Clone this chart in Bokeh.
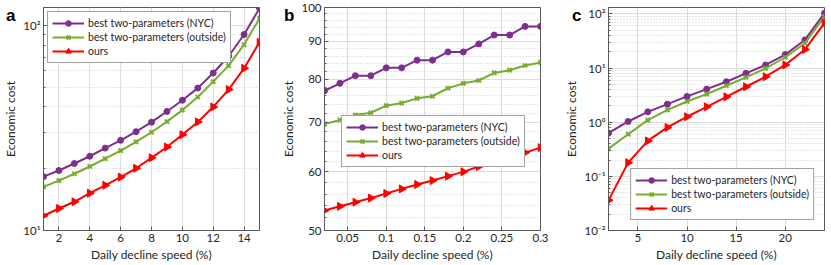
import math
from bokeh.plotting import figure
from bokeh.layouts import row
from bokeh.models import (Range1d, FixedTicker, Legend, LegendItem, Div,
                          CustomJSTickFormatter, NumeralTickFormatter)
from bokeh.embed import file_html
from bokeh.resources import INLINE

# ---------------- data ----------------
x_a = [1, 2, 3, 4, 5, 6, 7, 8, 9, 10, 11, 12, 13, 14, 15]
nyc_a = [18.3, 19.6, 21.2, 23.0, 25.2, 27.5, 30.3, 33.7, 38.0, 43.1, 49.4, 58.5, 70.6, 90.1, 121]
out_a = [16.3, 17.5, 18.9, 20.5, 22.4, 24.5, 27.0, 30.1, 33.9, 38.6, 44.7, 53.1, 63.6, 80.5, 107.9]
ours_a = [11.8, 12.8, 13.8, 15.2, 16.6, 18.2, 20.1, 22.6, 25.5, 29.3, 33.8, 40.0, 48.6, 61.7, 82.6]

x_b = [0.02, 0.04, 0.06, 0.08, 0.10, 0.12, 0.14, 0.16, 0.18, 0.20, 0.22, 0.24, 0.26, 0.28, 0.30]
nyc_b = [77.2, 79.0, 80.9, 80.9, 82.9, 82.9, 84.9, 84.9, 87.1, 87.1, 89.3, 91.8, 91.8, 94.3, 94.3]
out_b = [69.6, 70.5, 71.6, 72.1, 73.7, 74.3, 75.4, 75.9, 77.8, 79.0, 79.7, 81.6, 82.3, 83.5, 84.3]
ours_b = [53.2, 53.9, 54.6, 55.3, 56.1, 56.9, 57.7, 58.4, 59.2, 60.0, 61.0, 61.9, 62.8, 63.7, 64.7]

x_c = [2, 4, 6, 8, 10, 12, 14, 16, 18, 20, 22, 24]
nyc_c = [0.625, 1.03, 1.55, 2.15, 2.99, 4.08, 5.58, 7.97, 11.4, 17.7, 33.0, 103]
out_c = [0.325, 0.60, 1.09, 1.69, 2.41, 3.30, 4.71, 6.71, 9.86, 15.8, 28.6, 89]
ours_c = [0.036, 0.179, 0.451, 0.80, 1.26, 1.92, 2.94, 4.51, 6.91, 11.4, 21.9, 68]

labels = ["best two-parameters (NYC)", "best two-parameters (outside)", "ours"]
panel_letters = ["a", "b", "c"]
xlabel = "Daily decline speed (%)"
ylabel = "Economic cost"

xt_a = [2, 4, 6, 8, 10, 12, 14]
xt_b = [0.05, 0.1, 0.15, 0.2, 0.25, 0.3]
xt_c = [5, 10, 15, 20]
yt_a = [10, 100]
yt_b = [50, 60, 70, 80, 90, 100]
yt_c = [0.01, 0.1, 1, 10, 100]

# ---------------- style ----------------
FONT = "Lato"
TXT = "#262626"
AX = "#5a5a5a"
GRID = "#dcdcdc"
C_NYC = "#7E2F8E"
C_OUT = "#77AC30"
C_OURS = "#FF0000"
FH = 223

sup_js = """
const e = Math.round(Math.log10(tick));
const m = {'-':'\u207b','0':'\u2070','1':'\u00b9','2':'\u00b2','3':'\u00b3','4':'\u2074','5':'\u2075','6':'\u2076','7':'\u2077','8':'\u2078','9':'\u2079'};
return '10' + String(e).split('').map(c => m[c]).join('');
"""


def make(fw, xr, yr, xt, yt, yminor, bl, br, xfmt=None, yfmt_sup=True):
    p = figure(frame_width=fw, frame_height=FH, y_axis_type="log", output_backend="svg",
               toolbar_location=None, x_range=Range1d(*xr), y_range=Range1d(*yr))
    p.min_border_left = bl
    p.min_border_right = br
    p.min_border_top = 7
    p.min_border_bottom = 34
    p.outline_line_color = AX
    p.outline_line_width = 1
    p.outline_line_alpha = 1
    p.background_fill_color = "white"
    p.border_fill_color = "white"

    p.xaxis.ticker = FixedTicker(ticks=xt)
    p.yaxis.ticker = FixedTicker(ticks=yt, minor_ticks=yminor)
    if xfmt is not None:
        p.xaxis.formatter = xfmt
    if yfmt_sup:
        p.yaxis.formatter = CustomJSTickFormatter(code=sup_js)
    else:
        p.yaxis.formatter = NumeralTickFormatter(format="0")

    for ax in (p.xaxis[0], p.yaxis[0]):
        ax.axis_line_color = AX
        ax.major_tick_line_color = AX
        ax.minor_tick_line_color = AX
        ax.major_tick_in = 4
        ax.major_tick_out = 0
        ax.minor_tick_in = 2
        ax.minor_tick_out = 0
        ax.major_label_text_font = FONT
        ax.major_label_text_font_size = "11.5px"
        ax.major_label_text_color = TXT
        ax.axis_label_text_font = FONT
        ax.axis_label_text_font_size = "12px"
        ax.axis_label_text_font_style = "normal"
        ax.axis_label_text_color = TXT
        ax.major_label_standoff = 3
        ax.axis_label_standoff = 2
    p.xaxis.axis_label = xlabel
    p.yaxis.axis_label = ylabel
    p.xaxis.minor_tick_line_color = None

    p.xgrid.grid_line_color = GRID
    p.ygrid.grid_line_color = GRID
    p.ygrid.minor_grid_line_color = "#cfcfcf"
    p.ygrid.minor_grid_line_dash = "1 2"
    return p


def series(p, x, ys, legend_loc, margin):
    items = []
    specs = [(C_NYC, "circle", 6, 0), (C_OUT, "x", 6, 0), (C_OURS, "triangle", 8, -math.pi / 2)]
    for y, lab, (col, mk, sz, ang) in zip(ys, labels, specs):
        ln = p.line(x, y, line_color=col, line_width=2)
        sc = p.scatter(x, y, marker=mk, size=sz, angle=ang, line_color=col, fill_color=col,
                       line_width=2 if mk == "x" else 1)
        items.append(LegendItem(label=lab, renderers=[ln, sc]))
    lg = Legend(items=items, location=legend_loc, margin=margin, padding=4, spacing=0,
                glyph_width=32, glyph_height=14, label_height=14, label_standoff=4,
                label_text_font=FONT, label_text_font_size="10.5px", label_text_color=TXT,
                border_line_color="#444444", border_line_width=1,
                background_fill_color="white", background_fill_alpha=1)
    p.add_layout(lg)


minor_a = [m * 10 for m in range(2, 10)]
minor_b = [52, 54, 56, 58, 62, 64, 66, 68, 72, 74, 76, 78, 82, 84, 86, 88, 92, 94, 96, 98]
minor_c = [m * 10.0 ** d for d in range(-2, 3) for m in range(2, 10)]

pa = make(216, (1, 15), (10, 122), xt_a, yt_a, minor_a, 42, 18)
series(pa, x_a, [nyc_a, out_a, ours_a], "top_left", 4)

pb = make(216, (0.02, 0.3), (50, 100), xt_b, yt_b, minor_b, 47, 20,
          xfmt=NumeralTickFormatter(format="0.[00]"), yfmt_sup=False)
series(pb, x_b, [nyc_b, out_b, ours_b], (17, 63), 0)

pc = make(216, (2, 24), (0.01, 131), xt_c, yt_c, minor_c, 48, 2)
series(pc, x_c, [nyc_c, out_c, ours_c], "bottom_right", 10)

divs = []
for txt, left in zip(panel_letters, [1, 279, 567]):
    divs.append(Div(text=txt, width=12, height=18,
                    styles={"position": "absolute", "left": f"{left}px", "top": "2px",
                            "font-family": "Liberation Sans", "font-weight": "bold",
                            "font-size": "17px", "line-height": "17px", "color": "black",
                            "z-index": "10"}))

layout = row(pa, pb, pc, *divs)
open("out.html", "w").write(file_html(layout, INLINE))
